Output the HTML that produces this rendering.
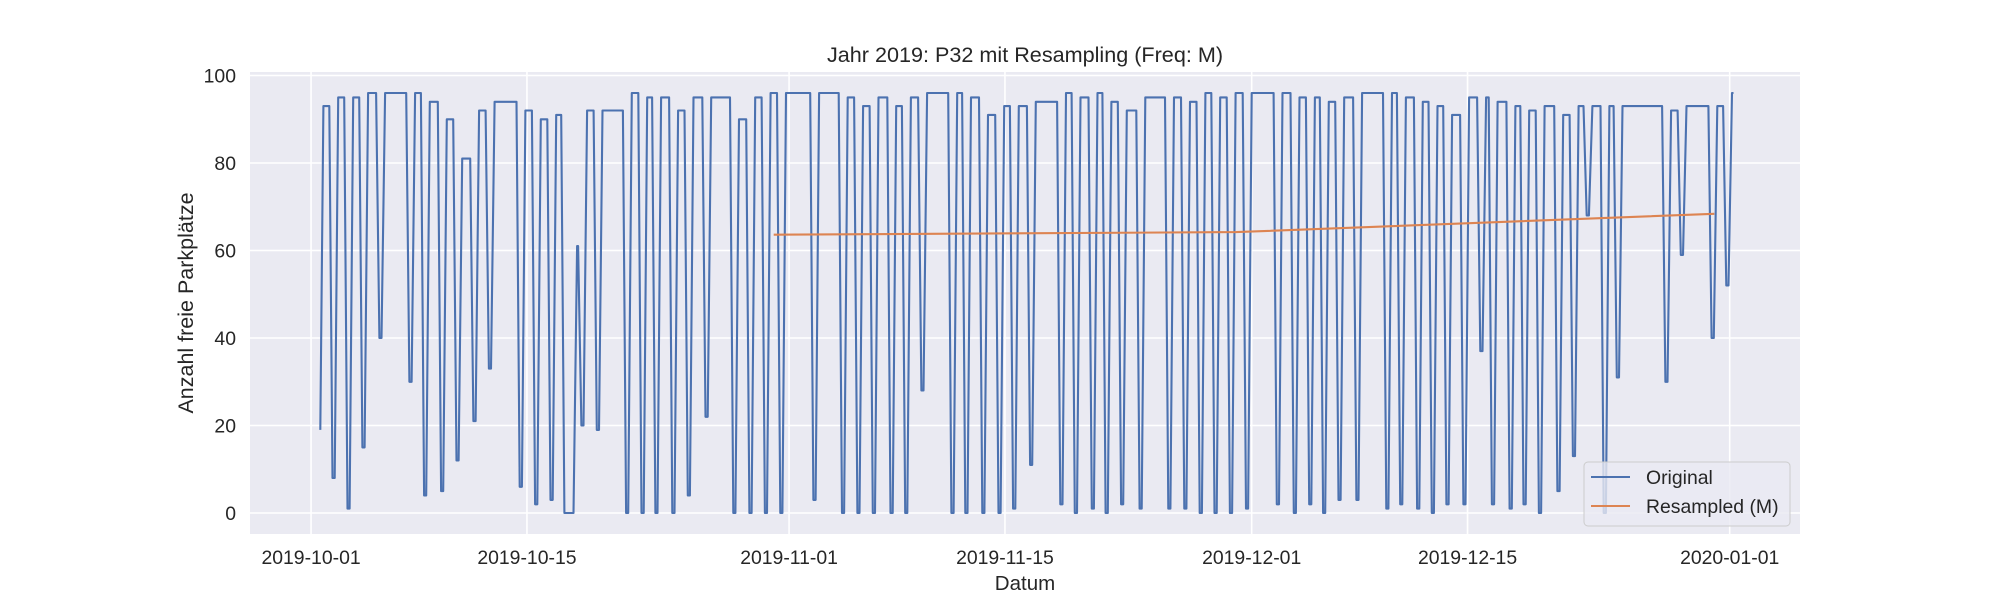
<!DOCTYPE html>
<html><head><meta charset="utf-8">
<style>
html,body{margin:0;padding:0;background:#fff;}
svg{display:block;font-family:"Liberation Sans",Arial,sans-serif;}
</style></head>
<body>
<svg id="chart" width="2000" height="600" viewBox="0 0 2000 600" xmlns="http://www.w3.org/2000/svg">
<rect x="250" y="72" width="1550" height="462" fill="#eaeaf2"/>
<g id="grid"></g>
<g id="series"></g>
<g id="ticks"></g>
<text x="1025" y="62" font-size="21.6" text-anchor="middle" fill="#262626">Jahr 2019: P32 mit Resampling (Freq: M)</text>
<text x="1025" y="590" font-size="20.5" text-anchor="middle" fill="#262626">Datum</text>
<text transform="translate(193,303) rotate(-90)" font-size="21.5" text-anchor="middle" fill="#262626">Anzahl freie Parkplätze</text>
<g>
<rect x="1584" y="462" width="206" height="64" rx="4" fill="#eaeaf2" fill-opacity="0.8" stroke="#cccccc" stroke-width="1"/>
<line x1="1591" y1="477" x2="1630" y2="477" stroke="#4c72b0" stroke-width="2.1"/>
<text x="1646" y="484" font-size="19.4" fill="#262626">Original</text>
<line x1="1591" y1="506" x2="1630" y2="506" stroke="#dd8452" stroke-width="2.1"/>
<text x="1646" y="513" font-size="19.4" fill="#262626">Resampled (M)</text>
</g>
</svg>
<script>
// Data (days since 2019-10-01)
const startDay = 0.6;
const startValue = 19;
const firstHigh = 93;
const dipDays = [1.46,2.43,3.4,4.5,6.45,7.4,8.5,9.5,10.6,11.6,13.6,14.6,15.6,16.5,16.95,17.6,18.6,20.5,21.5,22.4,
23.5,24.5,25.65,27.45,28.5,29.5,30.5,32.65,34.5,35.5,36.5,37.65,38.6,39.65,41.6,42.5,43.6,44.65,45.6,46.7,
48.66,49.6,50.7,51.6,52.6,53.8,55.66,56.7,57.7,58.66,59.66,60.7,62.7,63.8,64.8,65.7,66.7,67.86,69.8,
70.7,71.8,72.75,73.7,74.8,75.9,76.65,77.8,78.7,79.7,80.9,81.9,82.8,83.9,84.75,87.9,88.9,90.9,91.85];
const dipMins = [8,1,15,40,30,4,5,12,21,33,6,2,3,0,0,20,19,0,0,0,
0,4,22,0,0,0,0,3,0,0,0,0,0,28,0,0,0,0,1,11,
2,0,1,0,2,1,1,1,0,0,0,1,2,0,2,0,3,3,1,
2,1,0,2,2,37,2,1,2,0,5,13,68,0,31,30,59,40,52];
const dipHighs = [95,95,96,96,96,94,90,81,92,94,92,90,91,0,61,92,92,96,95,95,
92,95,95,90,95,96,96,96,95,93,95,93,95,96,96,95,91,93,93,94,
96,95,96,94,92,95,95,94,96,95,96,96,96,95,95,94,95,96,96,
95,94,93,91,95,95,94,93,92,93,91,93,93,93,93,92,93,93,96];
const endDay = 92.25;
const resampledDays = [30, 60, 91];
const resampledValues = [63.6, 64.2, 68.4];
const yTicks = [0,20,40,60,80,100];
const xTickDays = [0,14,31,45,61,75,92];
const xTickLabels = ["2019-10-01","2019-10-15","2019-11-01","2019-11-15","2019-12-01","2019-12-15","2020-01-01"];

const NS = "http://www.w3.org/2000/svg";
const L=250,R=1800,T=72,B=534;
const dMin=-3.96,dMax=96.56,yMin=-4.8,yMax=100.8;
function xs(d){return L+(d-dMin)/(dMax-dMin)*(R-L);}
function ys(v){return B-(v-yMin)/(yMax-yMin)*(B-T);}
function mk(tag,attrs,parent){const e=document.createElementNS(NS,tag);for(const k in attrs)e.setAttribute(k,attrs[k]);parent.appendChild(e);return e;}

const grid=document.getElementById('grid');
const ticks=document.getElementById('ticks');
yTicks.forEach(v=>{
  const g=mk('line',{x1:L,x2:R,y1:ys(v),y2:ys(v),stroke:'#fff','stroke-width':1.6},grid);
  
  
  const t=mk('text',{x:236,y:ys(v)+7,'font-size':19.4,'text-anchor':'end',fill:'#262626'},ticks);
  t.textContent=v;
  
  
});
xTickDays.forEach((d,i)=>{
  const g=mk('line',{x1:xs(d),x2:xs(d),y1:T,y2:B,stroke:'#fff','stroke-width':1.6},grid);
  
  
  const t=mk('text',{x:xs(d),y:564,'font-size':19.4,'text-anchor':'middle',fill:'#262626'},ticks);
  t.textContent=xTickLabels[i];
  
  
});

const series=document.getElementById('series');
let pts=[[startDay,startValue],[startDay+0.2,firstHigh]];
for(let i=0;i<dipDays.length;i++){
  const prev=i===0?firstHigh:dipHighs[i-1];
  const t=dipDays[i];
  pts.push([t-0.28,prev],[t-0.07,dipMins[i]],[t+0.07,dipMins[i]],[t+0.3,dipHighs[i]]);
}
pts.push([endDay,dipHighs[dipHighs.length-1]]);
const orig=mk('polyline',{points:pts.map(p=>xs(p[0]).toFixed(1)+','+ys(p[1]).toFixed(1)).join(' '),fill:'none',stroke:'#4c72b0','stroke-width':2.1,'stroke-linejoin':'round'},series);


const res=mk('polyline',{points:resampledDays.map((d,i)=>xs(d).toFixed(1)+','+ys(resampledValues[i]).toFixed(1)).join(' '),fill:'none',stroke:'#dd8452','stroke-width':2.1},series);


</script>
</body></html>
